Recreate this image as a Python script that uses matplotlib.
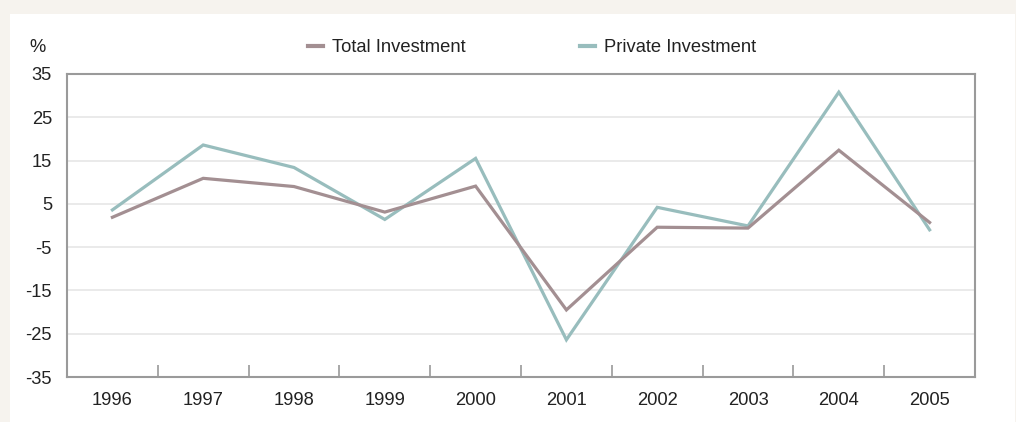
import matplotlib.pyplot as plt
from matplotlib.lines import Line2D

years = ['1996', '1997', '1998', '1999', '2000', '2001', '2002', '2003', '2004', '2005']
total_inv = [1.9, 10.9, 9.0, 3.1, 9.1, -19.5, -0.4, -0.6, 17.4, 0.7]
private_inv = [3.6, 18.6, 13.4, 1.4, 15.5, -26.4, 4.2, -0.1, 30.8, -1.0]
yticks = [35, 25, 15, 5, -5, -15, -25, -35]

total_col = '#a38f92'
private_col = '#98bdbd'
beige = '#f6f3ee'
framec = '#9a9a9a'
gridc = '#e6e6e6'
textc = '#222222'
fs = 13.2

plt.rcParams['font.family'] = ['Liberation Sans', 'DejaVu Sans']

fig = plt.figure(figsize=(10.16, 4.22), dpi=100)
fig.patch.set_facecolor(beige)

# white card behind the chart
card = plt.Rectangle((10 / 1016, 0), 1005 / 1016, 1 - 14 / 422,
                     transform=fig.transFigure, facecolor='white',
                     edgecolor='none', zorder=-5)
fig.patches.append(card)

ax = fig.add_axes([67 / 1016, 1 - 377 / 422, 908 / 1016, 303 / 422])
ax.set_facecolor('white')

x = range(len(years))
ax.plot(x, total_inv, color=total_col, lw=2.3, solid_joinstyle='miter', zorder=3)
ax.plot(x, private_inv, color=private_col, lw=2.3, solid_joinstyle='miter', zorder=2)

ax.set_xlim(-0.5, len(years) - 0.5)
ax.set_ylim(-35, 35)
ax.set_yticks(yticks)
ax.set_yticklabels([str(v) for v in yticks], fontsize=fs, color=textc)
for v in yticks[1:-1]:
    ax.axhline(v, color=gridc, lw=1.2, zorder=1)

ax.set_xticks(list(x))
ax.set_xticklabels(years, fontsize=fs, color=textc)
ax.set_xticks([i + 0.5 for i in range(len(years) - 1)], minor=True)
ax.tick_params(axis='x', which='major', length=0, pad=10.5)
ax.tick_params(axis='x', which='minor', direction='in', length=8.5,
               color=framec, width=1.2)
ax.tick_params(axis='y', length=0, pad=10.8)

for s in ax.spines.values():
    s.set_color(framec)
    s.set_linewidth(1.5)

fig.text(38 / 1016, 1 - 48 / 422, '%', fontsize=fs, color=textc,
         ha='center', va='center')

# legend entries laid out across the top
handles = [Line2D([], [], color=total_col, lw=3),
           Line2D([], [], color=private_col, lw=3)]
leg = fig.legend(handles, ['Total Investment', 'Private Investment'],
                 loc='center left', bbox_to_anchor=(308 / 1016, 1 - 48 / 422),
                 ncol=2, frameon=False, fontsize=fs, handlelength=0.83,
                 handletextpad=0.5, columnspacing=6.2, borderpad=0,
                 borderaxespad=0, labelcolor=textc)

fig.savefig('out.png', dpi=100, facecolor=beige)
